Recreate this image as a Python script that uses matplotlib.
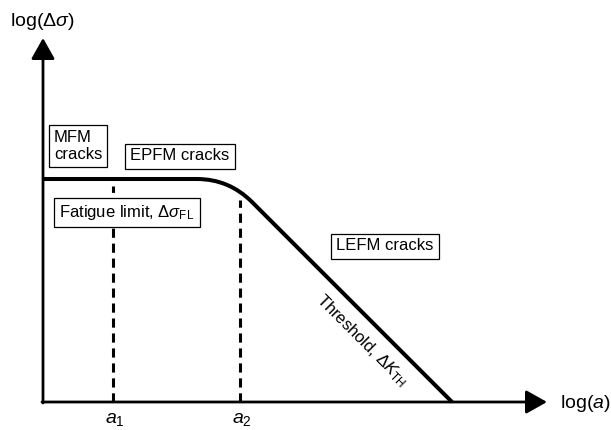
import matplotlib
matplotlib.use("Agg")
import matplotlib.pyplot as plt
from matplotlib.path import Path
from matplotlib.patches import PathPatch

plt.rcParams['font.family'] = ['Liberation Sans', 'DejaVu Sans']
plt.rcParams['mathtext.fontset'] = 'custom'
plt.rcParams['mathtext.rm'] = 'Liberation Sans'
plt.rcParams['mathtext.it'] = 'Liberation Sans:italic'
plt.rcParams['mathtext.bf'] = 'Liberation Sans:bold'

# schematic in its own units: origin at the axes crossing, 1 unit ~ 1 px
x_max = 504          # x axis arrow tip
y_max = 364          # y axis arrow tip
fatigue = 223        # fatigue limit level
x_knee = [154, 186, 209]    # start of bend, corner, end of bend
y_knee = [223, 223, 200]
x_cut = 409          # threshold line meets the x axis
a_pos = [70, 197]    # a1, a2
a_top = [216, 202]   # top of dashed lines
a_labels = [r'$a_1$', r'$a_2$']

fig = plt.figure(figsize=(6.11, 4.30), dpi=100)
ax = fig.add_axes([0, 0, 1, 1])
ax.set_xlim(-43, 568)
ax.set_ylim(-28, 402)
ax.axis('off')

# axes with arrows
arr = dict(arrowstyle='-|>,head_length=0.8,head_width=0.45', lw=2, color='k',
           mutation_scale=16, shrinkA=0, shrinkB=0)
ax.annotate('', xy=(0, y_max), xytext=(0, -1), arrowprops=arr)
ax.annotate('', xy=(x_max, 0), xytext=(-1, 0), arrowprops=arr)

# curve: flat fatigue limit, rounded bend, threshold line
verts = [(0, fatigue), (x_knee[0], y_knee[0]), (x_knee[1], y_knee[1]),
         (x_knee[2], y_knee[2]), (x_cut, 0)]
codes = [Path.MOVETO, Path.LINETO, Path.CURVE3, Path.CURVE3, Path.LINETO]
ax.add_patch(PathPatch(Path(verts, codes), fill=False, lw=2.9,
                       edgecolor='k', capstyle='butt', joinstyle='round'))

# dashed lines at a1, a2
for xa, yt, lab in zip(a_pos, a_top, a_labels):
    ax.plot([xa, xa], [0, yt], color='k', lw=2.2, dashes=(3.0, 1.9))
    ax.text(xa - 8, -9, lab, fontsize=14, ha='left', va='top')

box = dict(boxstyle='square,pad=0.3', fc='white', ec='k', lw=0.9)
ax.text(11, 256, 'MFM\ncracks', fontsize=12, ha='left', va='center',
        linespacing=1.1, bbox=box)
ax.text(137, 246, 'EPFM cracks', fontsize=12, ha='center', va='center',
        bbox=box)
ax.text(84, 190, r'Fatigue limit, $\Delta\sigma_{\rm FL}$', fontsize=12,
        ha='center', va='center', bbox=box)
ax.text(342, 156, 'LEFM cracks', fontsize=12, ha='center', va='center',
        bbox=box)
ax.text(319, 61, r'Threshold, $\Delta K_{\rm TH}$', fontsize=12,
        ha='center', va='center', rotation=-45, rotation_mode='anchor')

ax.text(-1, 381, r'log($\Delta\sigma$)', fontsize=14, ha='center',
        va='center')
ax.text(517, -2, r'log($a$)', fontsize=14, ha='left', va='center')

fig.savefig('out.png', dpi=100)
